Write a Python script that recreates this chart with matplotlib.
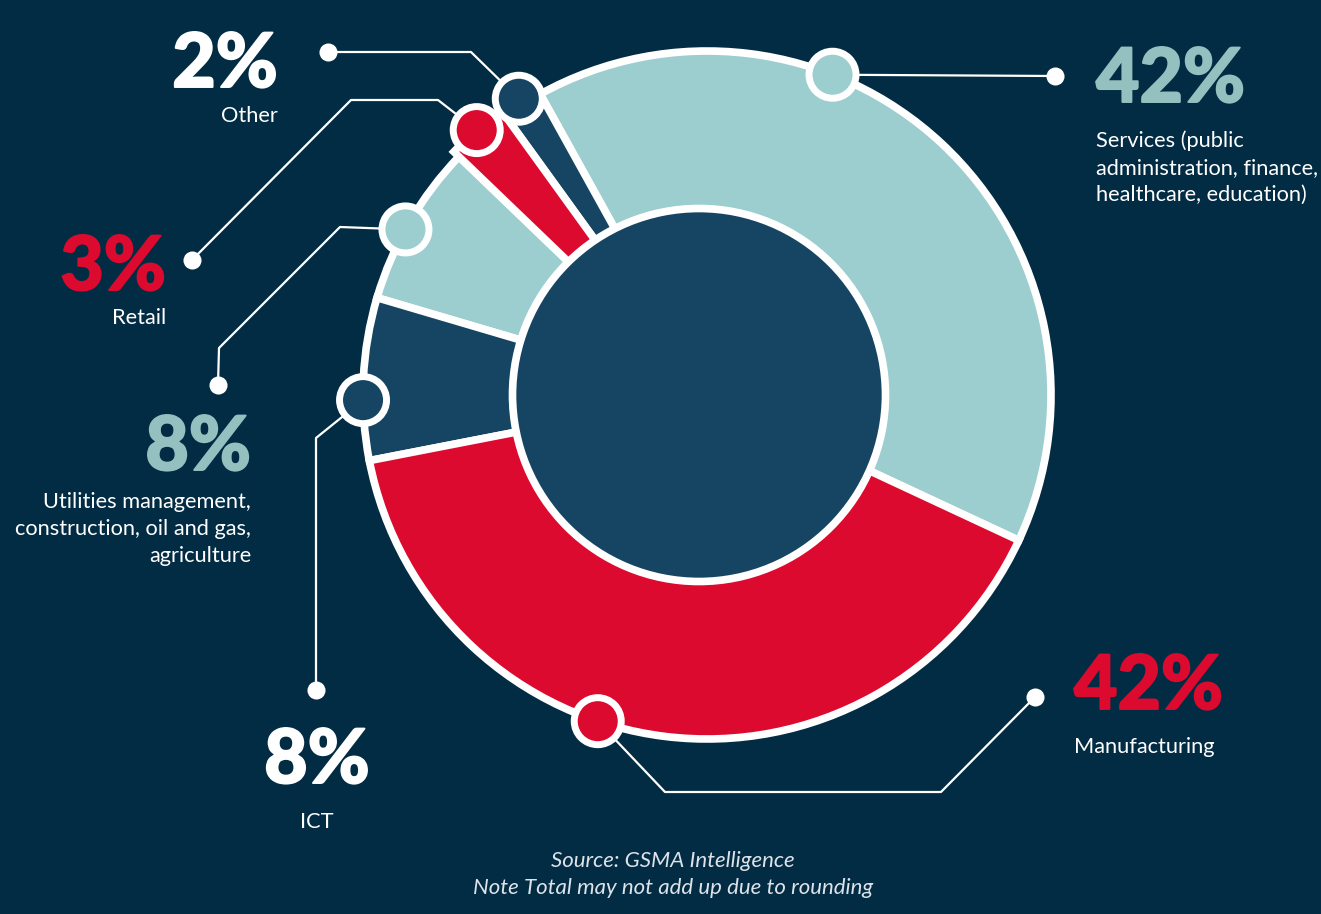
import numpy as np
import matplotlib.pyplot as plt
import matplotlib.patheffects as pe
from matplotlib.patches import Circle

# data
sectors = ['Services', 'Other', 'Retail', 'Utilities', 'ICT', 'Manufacturing']
share = [42, 2, 3, 8, 8, 42]
descriptions = [
    ['Services (public', 'administration, finance,', 'healthcare, education)'],
    ['Other'],
    ['Retail'],
    ['Utilities management,', 'construction, oil and gas,', 'agriculture'],
    ['ICT'],
    ['Manufacturing'],
]
source_note = ['Source: GSMA Intelligence', 'Note Total may not add up due to rounding']

BG = '#022c43'
TEAL = '#9ccdcf'
NAVY = '#164563'
RED = '#dc0a2e'
wedge_colors = [TEAL, NAVY, RED, TEAL, NAVY, RED]
pct_colors = ['#94c1c0', 'white', RED, '#94c1c0', 'white', RED]

# layout (pixels, y down)
CENTER = (707, 395)
RADIUS = 344
marker_frac = [0.65, 0.5, 0.5, 0.55, 0.63, 0.42]
extra_r = [0, 7, 7, 0, 0, 0]
leaders = [
    [(1055, 76)],
    [(471, 52), (328, 52)],
    [(438, 100), (351, 100), (192, 260)],
    [(340, 227), (219, 348), (218, 385)],
    [(316, 438), (316, 690)],
    [(665, 792), (941, 792), (1035, 697)],
]
# (x, baseline of percentage, baseline of first label line, alignment)
text_pos = [
    (1096, 102, 147, 'left'),
    (278, 87, 122, 'right'),
    (166, 290, 324, 'right'),
    (251, 470, 508, 'right'),
    (317, 783, 828, 'center'),
    (1074, 709, 753, 'left'),
]

plt.rcParams['font.family'] = ['Lato', 'DejaVu Sans']

fig = plt.figure(figsize=(13.21, 9.14), dpi=100, facecolor=BG)
ax = fig.add_axes([0, 0, 1, 1])

wedges, _ = ax.pie(share, colors=wedge_colors, startangle=25, counterclock=False,
                   radius=RADIUS, center=CENTER,
                   wedgeprops=dict(edgecolor='white', linewidth=5.5))
for w, dr in zip(wedges, extra_r):
    if dr:
        w.set_radius(RADIUS + dr)
        w.set_zorder(1.5)

ax.add_patch(Circle((699, 395), 186.5, facecolor=NAVY, edgecolor='white', linewidth=5.5, zorder=3))

for i, w in enumerate(wedges):
    a = np.deg2rad(w.theta2 - marker_frac[i] * (w.theta2 - w.theta1))
    mx = w.center[0] + w.r * np.cos(a)
    my = w.center[1] + w.r * np.sin(a)
    pts = [(mx, my)] + leaders[i]
    ax.plot([p[0] for p in pts], [p[1] for p in pts], color='white', lw=1.6, zorder=4,
            solid_capstyle='butt')
    ax.plot(pts[-1][0], pts[-1][1], 'o', ms=13, color='white', mew=0, zorder=5)
    ax.add_patch(Circle((mx, my), 23.5, facecolor=wedge_colors[i], edgecolor='white',
                        linewidth=5, zorder=6))

    x, yp, yl, ha = text_pos[i]
    ax.text(x, yp, f'{share[i]}%', color=pct_colors[i], fontsize=54, fontweight='black',
            ha=ha, va='baseline',
            path_effects=[pe.withStroke(linewidth=1.4, foreground=pct_colors[i])])
    for k, line in enumerate(descriptions[i]):
        ax.text(x, yl + 27 * k, line, color='white', fontsize=15.7, ha=ha, va='baseline')

for k, line in enumerate(source_note):
    ax.text(673, 867 + 27 * k, line, color='#dde3e8', fontsize=16, style='italic',
            ha='center', va='baseline')

ax.set_xlim(0, 1321)
ax.set_ylim(914, 0)
ax.set_aspect('equal')
ax.axis('off')

fig.savefig('out.png', dpi=100, facecolor=BG)
